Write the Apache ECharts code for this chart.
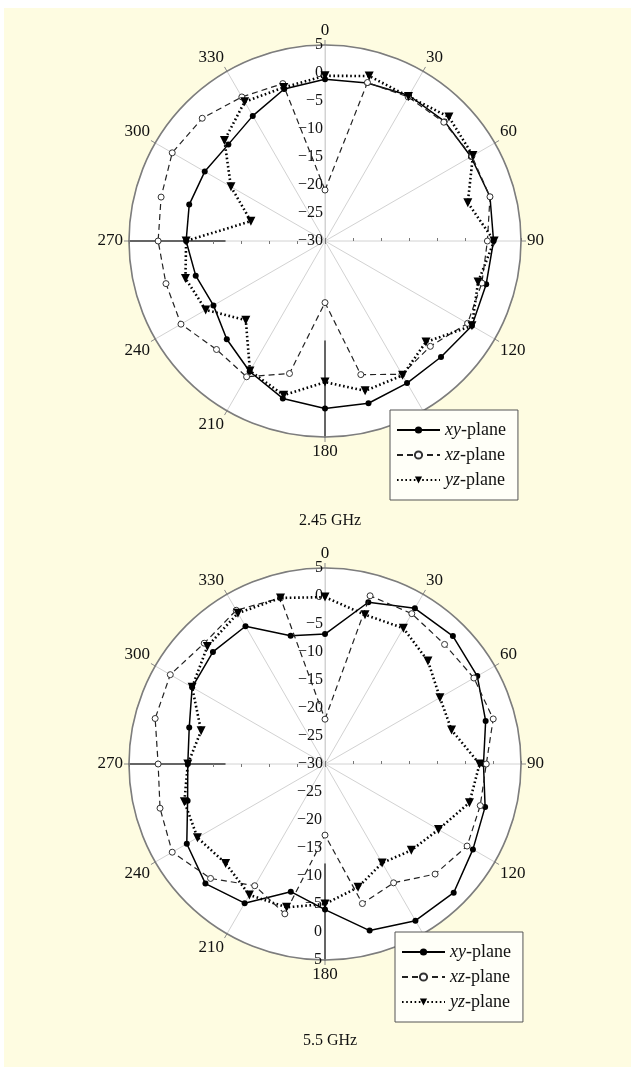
<!DOCTYPE html>
<html>
<head>
<meta charset="utf-8">
<script src="https://cdn.jsdelivr.net/npm/echarts@6/dist/echarts.min.js"></script>
<style>
  html, body { margin: 0; padding: 0; background: #ffffff; }
  #chart { position: absolute; left: 4px; top: 8px; width: 627px; height: 1059px; }
</style>
</head>
<body>
<div id="chart"></div>
<script>
// Measurement angles (degrees, clockwise from 0 at the top)
const ANGLES = [0, 15, 30, 45, 60, 75, 90, 105, 120, 135, 150, 165,
                180, 195, 210, 225, 240, 255, 270, 285, 300, 315, 330, 345];

// Radial scale in dB
const R_MIN = -30, R_MAX = 5, R_STEP = 5;

const PLANES = ['xy-plane', 'xz-plane', 'yz-plane'];

// 2.45 GHz patterns (dB)
const xy245 = [-1.1, -0.8, 0.0, 0.2, 0.1, 0.5, 0.1, -0.2, 0.3, -0.7, -0.7, 0.0,
               -0.1, -0.9, -3.1, -5.2, -7.0, -6.1, -5.2, -4.9, -5.2, -5.6, -4.2, -1.9];
const xz245 = [-20.9, -0.7, -0.3, 0.0, 0.3, 0.5, -1.0, -1.0, -0.6, -3.4, -2.5, -5.3,
               -19.0, -5.5, -2.0, -2.6, -0.3, -0.6, -0.2, 0.3, 1.5, 1.0, -0.3, -0.9];
const yz245 = [-0.5, 0.5, -0.2, 1.3, 0.5, -3.6, 0.2, -1.7, 0.3, -4.5, -2.3, -2.3,
               -4.8, -1.5, -3.2, -10.0, -5.4, -4.2, -5.2, -16.3, -10.6, -4.6, -1.3, -1.6];

// 5.5 GHz patterns (dB)
const xy55 = [-6.8, -0.1, 2.1, 2.3, 1.4, -0.3, -1.7, -0.4, 0.5, 2.5, 2.3, 0.8,
              -4.0, -6.4, -1.3, 0.2, -1.5, -4.6, -5.5, -4.9, -2.6, -1.7, -1.6, -6.3];
const xz55 = [-22.0, 1.1, 1.0, 0.2, 0.7, 1.1, -1.2, -1.3, -0.7, -2.2, -5.5, -4.2,
              -17.3, -2.3, -4.9, -1.1, 1.5, 0.5, -0.2, 1.4, 1.9, 0.5, 1.7, 0.7];
const yz55 = [-0.2, -2.4, -2.0, -4.0, -6.3, -6.6, -2.4, -3.3, -6.6, -8.2, -9.6, -7.2,
              -5.0, -3.5, -3.0, -4.9, -3.7, -4.0, -5.5, -7.1, -2.6, -0.3, 1.1, 0.7];

const PLOTS = [
  { title: '2.45 GHz', series: [xy245, xz245, yz245], lowerLabels: false },
  { title: '5.5 GHz',  series: [xy55,  xz55,  yz55],  lowerLabels: true  }
];

const FONT = '"Liberation Serif", "Times New Roman", serif';
const BG = '#FEFCE1';
const RADIUS = 196;
const CENTERS = [[321, 233], [321, 756]];
const LEGEND_POS = [[386, 402], [391, 924]];
const TITLE_TOP = [500, 1020];

const minus = v => (v < 0 ? '\u2212' + (-v) : String(v));

const polar = [], angleAxis = [], radiusAxis = [], series = [], legend = [], title = [];

function addPolar(center, radius, startAngle, angleOpt, radiusOpt) {
  const idx = polar.length;
  polar.push({ center: center, radius: radius });
  angleAxis.push(Object.assign({
    polarIndex: idx, type: 'value', min: 0, max: 360, interval: 30,
    startAngle: startAngle, clockwise: true, show: false
  }, angleOpt || {}));
  radiusAxis.push(Object.assign({
    polarIndex: idx, type: 'value', min: R_MIN, max: R_MAX, interval: R_STEP,
    axisLine: { show: false }, axisTick: { show: false },
    axisLabel: { show: false }, splitLine: { show: false }, splitArea: { show: false }
  }, radiusOpt || {}));
  return idx;
}

PLOTS.forEach((plot, p) => {
  const c = CENTERS[p];

  // main polar grid: rings, spokes, angle labels and radial labels
  const main = addPolar(c, RADIUS, 90, {
    show: true,
    axisLine: { show: true, lineStyle: { color: '#7d7d7d', width: 1.6 } },
    axisTick: { show: true, length: 5, lineStyle: { color: '#8a8a8a' } },
    axisLabel: {
      margin: 6, color: '#111', fontFamily: FONT, fontSize: 17,
      formatter: v => (v >= 360 ? '' : String(v))
    },
    splitLine: { show: true, lineStyle: { color: '#d2d2d2', width: 1 } }
  }, {
    axisLine: { show: true, lineStyle: { color: '#d2d2d2' } },
    axisLabel: {
      show: true, margin: 2, color: '#111', fontFamily: FONT, fontSize: 16,
      formatter: minus
    },
    splitLine: { show: true, lineStyle: { color: '#d2d2d2', width: 1 } },
    splitArea: { show: true, areaStyle: { color: ['#ffffff'] } }
  });

  // small ticks along the horizontal diameter
  [0, 180].forEach(a => addPolar(c, RADIUS, a, null, {
    axisTick: { show: true, length: 3, lineStyle: { color: '#777' } }
  }));

  // dark axis segments toward 270 and 180
  [180, 270].forEach(a => addPolar(c, [100, RADIUS], a, null, {
    axisLine: { show: true, lineStyle: { color: '#3a3a3a', width: 1.5 } }
  }));

  // radial labels running downward, kept on the left of the axis
  if (plot.lowerLabels) {
    addPolar(c, RADIUS, 270, null, {
      axisLabel: {
        show: true, margin: -3, align: 'right', color: '#111', fontFamily: FONT, fontSize: 16,
        formatter: v => (v === R_MIN ? '' : minus(v))
      }
    });
  }

  const styles = [
    { symbol: 'circle', symbolSize: 6, symbolRotate: 0,
      lineStyle: { color: '#000', width: 1.5, type: 'solid' },
      itemStyle: { color: '#000' } },
    { symbol: 'circle', symbolSize: 6, symbolRotate: 0,
      lineStyle: { color: '#222', width: 1.2, type: [6, 4] },
      itemStyle: { color: '#ffffff', borderColor: '#333', borderWidth: 1 } },
    { symbol: 'triangle', symbolSize: 9, symbolRotate: 180,
      lineStyle: { color: '#000', width: 2.6, type: [1.6, 2.6] },
      itemStyle: { color: '#000' } }
  ];

  plot.series.forEach((vals, k) => {
    const data = ANGLES.map((a, i) => [vals[i], a]);
    data.push({ value: [vals[0], 360], symbol: 'none' });
    series.push(Object.assign({
      type: 'line', name: PLANES[k], coordinateSystem: 'polar', polarIndex: main,
      data: data, smooth: false, animation: false, z: 3 + k, clip: false
    }, styles[k]));
  });

  legend.push({
    data: PLANES, orient: 'vertical',
    left: LEGEND_POS[p][0], top: LEGEND_POS[p][1],
    padding: [11, 12, 11, 6], itemGap: 7, itemWidth: 43, itemHeight: 9,
    backgroundColor: '#fffff8', borderColor: '#555', borderWidth: 1,
    selectedMode: false, z: 10,
    formatter: name => '{i|' + name.split('-')[0] + '}-plane',
    textStyle: {
      fontFamily: FONT, fontSize: 18, color: '#111',
      rich: { i: { fontFamily: FONT, fontSize: 18, fontStyle: 'italic', color: '#111' } }
    }
  });

  title.push({
    text: plot.title, left: c[0], top: TITLE_TOP[p], textAlign: 'center',
    textStyle: { fontFamily: FONT, fontSize: 16, fontWeight: 'normal', color: '#111' }
  });
});

const chart = echarts.init(document.getElementById('chart'), null, { renderer: 'canvas' });
chart.setOption({
  backgroundColor: BG,
  animation: false,
  title: title,
  legend: legend,
  polar: polar,
  angleAxis: angleAxis,
  radiusAxis: radiusAxis,
  series: series
});
</script>
</body>
</html>
